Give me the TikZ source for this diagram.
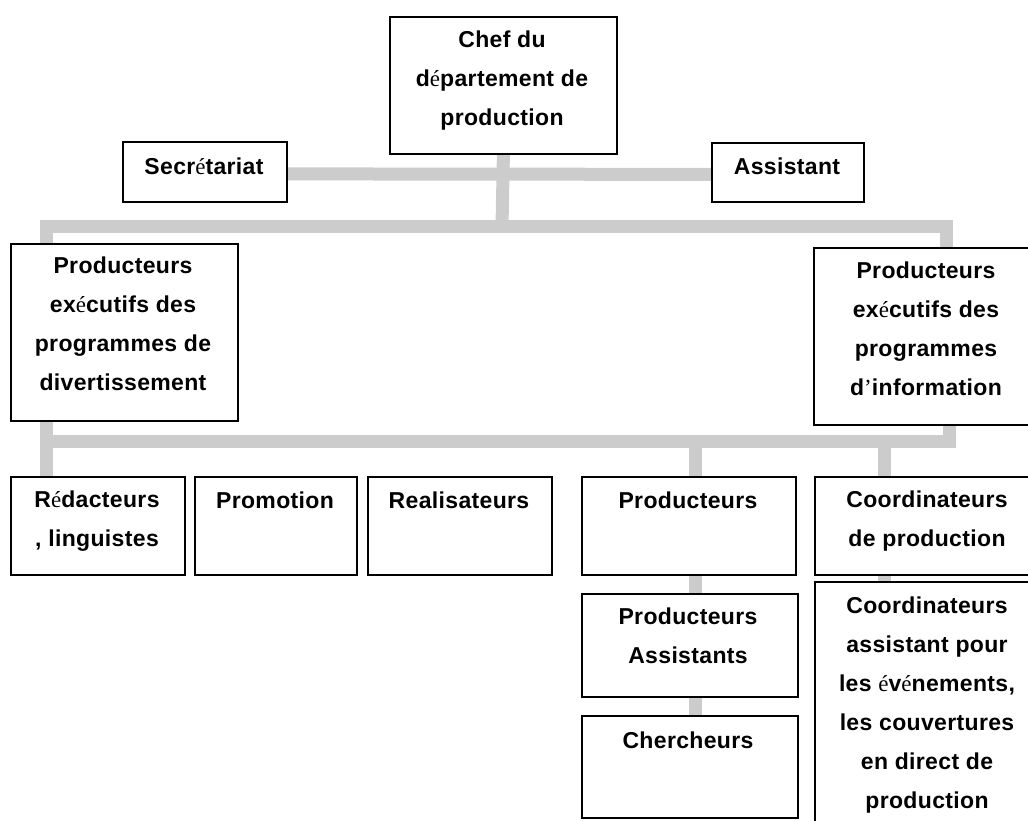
\documentclass[tikz,border=0pt]{standalone}
\usepackage{fontspec}
\setmainfont{Liberation Sans}[LetterSpace=1.5]
\newfontfamily\accfont{Liberation Serif}
% accented letters and apostrophe are set in a plain serif face
\newcommand\eacc{{\accfont\mdseries é}}
\newcommand\apos{{\accfont\mdseries ’}}
\newcommand\orgfont{\fontsize{23}{39}\selectfont\bfseries}
\definecolor{barg}{RGB}{204,204,204}
\pgfdeclarelayer{background}
\pgfsetlayers{background,main}
\begin{document}
\begin{tikzpicture}[x=1pt,y=-1pt,
  box/.style={draw=black,line width=1.8pt,fill=white,anchor=north west,inner sep=0pt},
  txt/.style={align=center,inner sep=0pt,anchor=north,font=\orgfont,
              execute at begin node={\rule{0pt}{21pt}}},
  bar/.style={draw=barg,line width=13pt,line join=miter}]
\useasboundingbox (0,0) rectangle (1028,821);
\clip (0,0) rectangle (1028,821);

% bus junctions
\coordinate (busA) at (502,227);
\coordinate (jL) at (46,441.5);
\coordinate (jR) at (949,441.5);
\coordinate (jP) at (695,441.5);
\coordinate (jC) at (884.5,441.5);
\coordinate (dL) at (46,227);
\coordinate (dR) at (946,227);

% boxes
\node[box,minimum width=227pt,minimum height=137pt] (chef) at (389,16) {};
\node[box,minimum width=164pt,minimum height=60pt] (secr) at (122,141) {};
\node[box,minimum width=152pt,minimum height=59pt] (asst) at (711,142) {};
\node[box,minimum width=227pt,minimum height=177pt] (execd) at (10,243) {};
\node[box,minimum width=227pt,minimum height=177pt] (execi) at (813,247) {};
\node[box,minimum width=174pt,minimum height=98pt] (red) at (10,476) {};
\node[box,minimum width=162pt,minimum height=98pt] (promo) at (194,476) {};
\node[box,minimum width=184pt,minimum height=98pt] (real) at (367,476) {};
\node[box,minimum width=214pt,minimum height=98pt] (prod) at (581,476) {};
\node[box,minimum width=226pt,minimum height=98pt] (coord) at (814,476) {};
\node[box,minimum width=216pt,minimum height=103pt] (pa) at (581,593) {};
\node[box,minimum width=216pt,minimum height=102pt] (cherch) at (581,715) {};
\node[box,minimum width=226pt,minimum height=280pt] (coordA) at (814,581) {};

% connectors, behind the boxes
\begin{pgfonlayer}{background}
  \draw[bar] ([yshift=-2pt]secr.east) -- ([yshift=-2pt]asst.west);
  \draw[bar] (chef.south) -- (busA);
  \draw[bar] (execd.north -| dL) -- (dL) -- (dR) -- (execi.north -| dR);
  \draw[bar] (execd.south -| jL) -- (red.north -| jL);
  \draw[bar] (jL) -- (jR) -- (execi.south -| jR);
  \draw[bar] (jP) -- (prod.north -| jP);
  \draw[bar] (jC) -- (coord.north -| jC);
  \draw[bar] (prod.south -| jP) -- (pa.north -| jP);
  \draw[bar] (pa.south -| jP) -- (cherch.north -| jP);
  \draw[bar] (coord.south -| jC) -- (coordA.north -| jC);
\end{pgfonlayer}

% texts
\node[txt] (chef-t) at (502,30.7) {Chef du\\d\eacc partement de\\production};
\node[txt] (secr-t) at (204,153) {Secr\eacc tariat};
\node[txt] (asst-t) at (787,153) {Assistant};
\node[txt] (execd-t) at (123,257) {Producteurs\\ex\eacc cutifs des\\programmes de\\divertissement};
\node[txt] (execi-t) at (926,262) {Producteurs\\ex\eacc cutifs des\\programmes\\d\apos information};
\node[txt] (red-t) at (97,491) {R\eacc dacteurs\\, linguistes};
\node[txt] (promo-t) at (275,487) {Promotion};
\node[txt] (real-t) at (459,487) {Realisateurs};
\node[txt] (prod-t) at (688,487) {Producteurs};
\node[txt] (coord-t) at (927,491) {Coordinateurs\\de production};
\node[txt] (pa-t) at (688,608) {Producteurs\\Assistants};
\node[txt] (cherch-t) at (688,727) {Chercheurs};
\node[txt] (coordA-t) at (927,597) {Coordinateurs\\assistant pour\\les \eacc v\eacc nements,\\les couvertures\\en direct de\\production};
\end{tikzpicture}
\end{document}
